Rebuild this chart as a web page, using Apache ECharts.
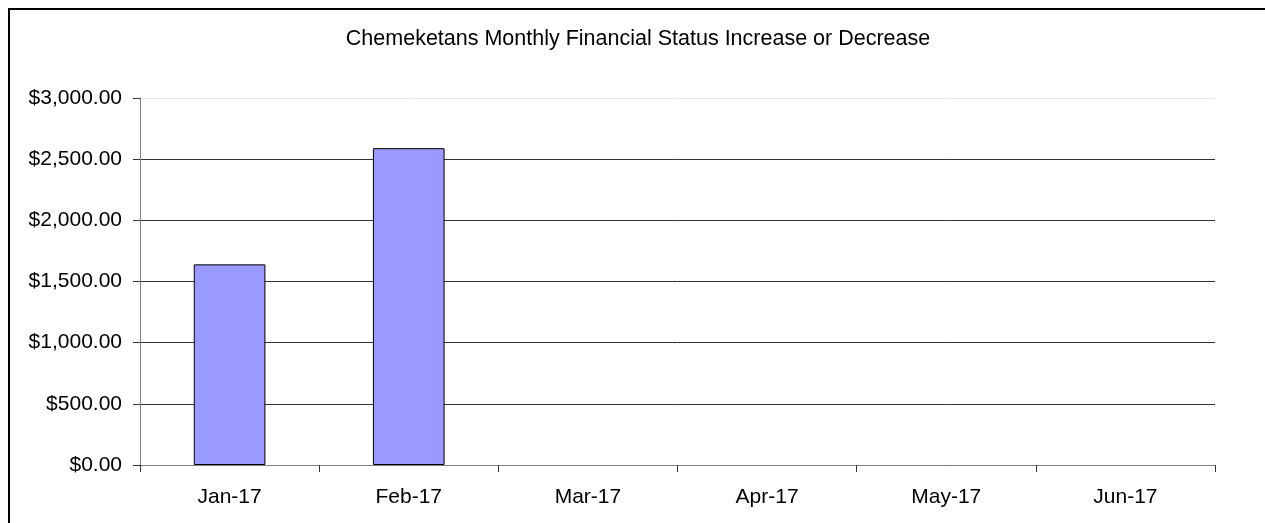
<!DOCTYPE html>
<html>
<head>
<meta charset="utf-8">
<script src="https://cdn.jsdelivr.net/npm/echarts@6/dist/echarts.min.js"></script>
<style>
html,body{margin:0;padding:0;background:#fff;}
#chart{width:1265px;height:523px;}
</style>
</head>
<body>
<div id="chart"></div>
<script>
const titleText = 'Chemeketans Monthly Financial Status Increase or Decrease';
const categories = ['Jan-17', 'Feb-17', 'Mar-17', 'Apr-17', 'May-17', 'Jun-17'];
const values = [1640, 2590, null, null, null, null];
const yMin = 0, yMax = 3000, yStep = 500;

function money(v) {
  const s = Math.abs(v).toFixed(2);
  const parts = s.split('.');
  parts[0] = parts[0].replace(/\B(?=(\d{3})+(?!\d))/g, ',');
  return (v < 0 ? '-' : '') + '$' + parts.join('.');
}

const gridColors = [];
for (let v = yMin; v <= yMax; v += yStep) gridColors.push(v === yMax ? '#e6e6e6' : '#333333');

const FONT = '"Liberation Sans", Arial, sans-serif';
const chart = echarts.init(document.getElementById('chart'), null, {renderer: 'canvas'});
chart.setOption({
  backgroundColor: '#ffffff',
  animation: false,
  title: {
    text: titleText,
    left: 633, textAlign: 'center',
    top: 23,
    textStyle: {fontFamily: FONT, fontSize: 21.5, fontWeight: 'normal', color: '#000'}
  },
  graphic: [{
    type: 'rect', silent: true,
    shape: {x: 9, y: 9, width: 1300, height: 600},
    style: {fill: 'none', stroke: '#000', lineWidth: 2}
  }],
  grid: {left: 140, right: 50, top: 98, bottom: 58, containLabel: false},
  xAxis: {
    type: 'category',
    data: categories,
    boundaryGap: true,
    axisLine: {lineStyle: {color: '#808080', width: 1}},
    axisTick: {show: true, length: 7, inside: false, lineStyle: {color: '#333'}},
    axisLabel: {fontFamily: FONT, fontSize: 21, color: '#000', margin: 22}
  },
  yAxis: {
    type: 'value',
    min: yMin, max: yMax, interval: yStep,
    axisLine: {show: true, lineStyle: {color: '#808080', width: 1}},
    axisTick: {show: true, length: 7, lineStyle: {color: '#333'}},
    axisLabel: {fontFamily: FONT, fontSize: 21, color: '#000', margin: 18, formatter: money},
    splitLine: {show: true, lineStyle: {color: gridColors, width: 1}}
  },
  series: [{
    type: 'bar',
    data: values,
    barWidth: '40%',
    itemStyle: {color: '#9999FF', borderColor: '#000', borderWidth: 1}
  }]
});
</script>
</body>
</html>
